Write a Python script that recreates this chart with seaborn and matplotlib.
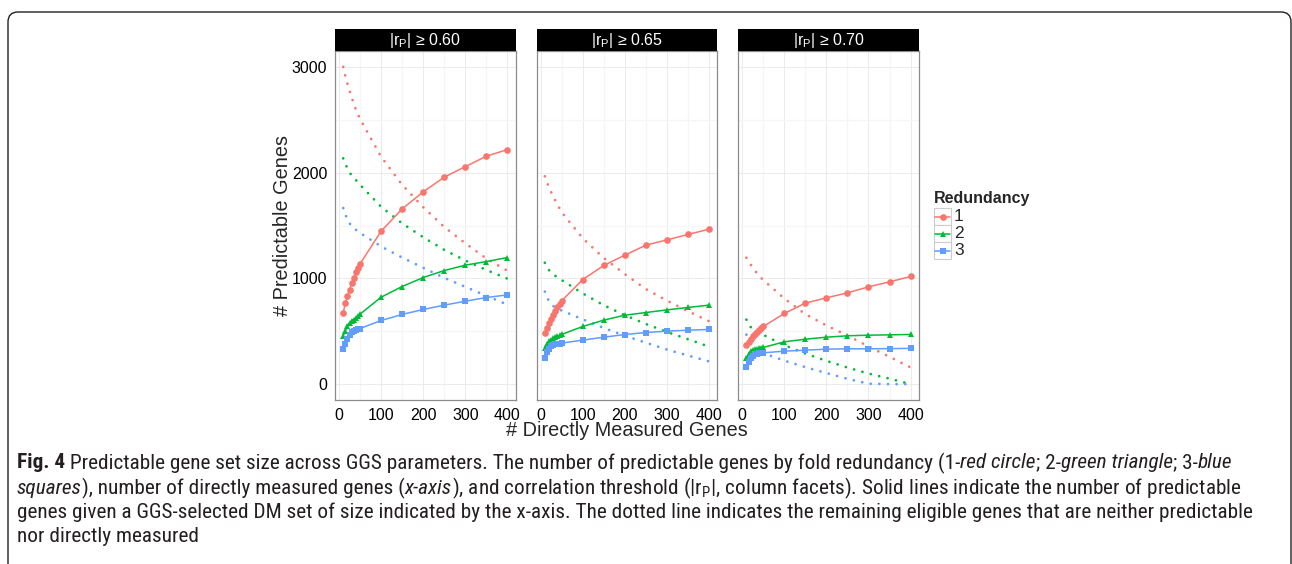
import numpy as np
import pandas as pd
import matplotlib
matplotlib.use("Agg")
import matplotlib.pyplot as plt
import matplotlib.patches as mpatches
from matplotlib.lines import Line2D
from matplotlib import font_manager
from matplotlib.transforms import IdentityTransform
import seaborn as sns

sns.set_style("white")
plt.rcParams["font.family"] = ["Liberation Sans", "DejaVu Sans"]
plt.rcParams["mathtext.fontset"] = "custom"
plt.rcParams["mathtext.rm"] = "Liberation Sans"

W, H = 1292, 564
COLORS = {1: "#F8766D", 2: "#00BA38", 3: "#619CFF"}
MARKERS = {1: "o", 2: "^", 3: "s"}

# ---- data ----
dm_genes = [10, 15, 20, 25, 30, 35, 40, 45, 50, 100, 150, 200, 250, 300, 350, 400]
thresholds = ["0.60", "0.65", "0.70"]
redundancy = [1, 2, 3]

# predictable genes (solid lines)
pred_060_r1 = [677, 763, 832, 892, 955, 1008, 1059, 1100, 1137, 1446, 1657, 1818, 1957, 2057, 2155, 2218]
pred_060_r2 = [457, 501, 551, 580, 599, 611, 627, 646, 662, 822, 923, 1008, 1074, 1125, 1159, 1197]
pred_060_r3 = [328, 381, 428, 460, 489, 501, 510, 520, 526, 602, 659, 706, 747, 784, 819, 844]
pred_065_r1 = [488, 535, 580, 618, 655, 690, 725, 756, 788, 989, 1122, 1219, 1314, 1364, 1415, 1465]
pred_065_r2 = [340, 384, 406, 422, 432, 441, 451, 460, 470, 545, 605, 652, 677, 702, 725, 747]
pred_065_r3 = [249, 302, 334, 356, 369, 378, 381, 384, 388, 416, 444, 469, 488, 501, 510, 517]
pred_070_r1 = [369, 400, 425, 451, 473, 494, 513, 529, 545, 668, 766, 816, 863, 920, 967, 1018]
pred_070_r2 = [243, 281, 312, 324, 331, 334, 337, 340, 347, 400, 425, 444, 457, 463, 466, 470]
pred_070_r3 = [164, 211, 243, 268, 281, 287, 290, 293, 296, 312, 321, 331, 334, 334, 336, 338]

# remaining eligible genes (dotted lines)
rem_060_r1 = [3000, 2915, 2840, 2776, 2712, 2652, 2595, 2550, 2508, 2150, 1885, 1673, 1486, 1332, 1188, 1072]
rem_060_r2 = [2135, 2085, 2040, 2003, 1973, 1950, 1930, 1910, 1885, 1677, 1520, 1389, 1270, 1169, 1080, 997]
rem_060_r3 = [1665, 1605, 1560, 1520, 1495, 1475, 1460, 1445, 1430, 1302, 1197, 1100, 1005, 920, 835, 752]
rem_065_r1 = [1965, 1910, 1860, 1815, 1775, 1735, 1700, 1662, 1625, 1380, 1192, 1041, 899, 790, 690, 595]
rem_065_r2 = [1148, 1110, 1078, 1058, 1040, 1024, 1010, 996, 984, 858, 746, 652, 569, 494, 425, 355]
rem_065_r3 = [875, 825, 784, 760, 738, 726, 716, 705, 696, 613, 531, 458, 392, 327, 271, 215]
rem_070_r1 = [1195, 1165, 1132, 1100, 1075, 1050, 1027, 1005, 984, 810, 661, 555, 460, 356, 258, 158]
rem_070_r2 = [610, 570, 540, 520, 505, 495, 485, 475, 466, 368, 289, 220, 157, 100, 52, 0]
rem_070_r3 = [468, 416, 384, 350, 330, 318, 309, 301, 294, 222, 161, 105, 50, 4, 0, 0]

pred = {"0.60": [pred_060_r1, pred_060_r2, pred_060_r3],
        "0.65": [pred_065_r1, pred_065_r2, pred_065_r3],
        "0.70": [pred_070_r1, pred_070_r2, pred_070_r3]}
rem = {"0.60": [rem_060_r1, rem_060_r2, rem_060_r3],
       "0.65": [rem_065_r1, rem_065_r2, rem_065_r3],
       "0.70": [rem_070_r1, rem_070_r2, rem_070_r3]}

rows = []
for thr in thresholds:
    for r, p, q in zip(redundancy, pred[thr], rem[thr]):
        for x, a, b in zip(dm_genes, p, q):
            rows.append((thr, r, x, "pred", a))
            rows.append((thr, r, x, "rem", b))
df = pd.DataFrame(rows, columns=["threshold", "redundancy", "dm", "kind", "genes"])


def box(x0, y0, x1, y1):
    return [x0 / W, 1 - y1 / H, (x1 - x0) / W, (y1 - y0) / H]


fig = plt.figure(figsize=(W / 100, H / 100), dpi=100)

PANEL_X = [(335, 515.6), (536.6, 717.2), (738.2, 918.8)]
for i, thr in enumerate(thresholds):
    x0, x1 = PANEL_X[i]
    ax = fig.add_axes(box(x0, 51, x1, 400))
    sub = df[df["threshold"] == thr]
    sns.lineplot(data=sub[sub["kind"] == "rem"], x="dm", y="genes", hue="redundancy",
                 palette=COLORS, lw=2.0, ls=(0, (0.01, 3.1)), dash_capstyle="round",
                 legend=False, ax=ax)
    sns.lineplot(data=sub[sub["kind"] == "pred"], x="dm", y="genes", hue="redundancy",
                 style="redundancy", markers=MARKERS, dashes=False, palette=COLORS,
                 lw=1.1, markersize=4.8, markeredgewidth=0, legend=False, ax=ax)
    ax.set_xlim(-9.5, 419.5)
    ax.set_ylim(-150, 3150)
    ax.set_xticks([0, 100, 200, 300, 400])
    ax.set_xticks([50, 150, 250, 350], minor=True)
    ax.set_yticks([0, 1000, 2000, 3000])
    ax.set_yticks([500, 1500, 2500], minor=True)
    ax.grid(which="major", color="#E8E8E8", lw=0.6)
    ax.grid(which="minor", color="#F6F6F6", lw=0.9)
    ax.set_axisbelow(True)
    ax.tick_params(which="minor", length=0)
    ax.tick_params(which="major", length=3.5, width=0.8, color="#333333",
                   labelsize=11.5, labelcolor="black", pad=2)
    if i > 0:
        ax.tick_params(axis="y", left=False, labelleft=False)
    ax.set_xlabel("")
    ax.set_ylabel("")
    for s in ax.spines.values():
        s.set_color("#8C8C8C")
        s.set_linewidth(0.9)

    sax = fig.add_axes(box(x0, 29, x1, 51))
    sax.set_facecolor("black")
    sax.set_xticks([])
    sax.set_yticks([])
    for s in sax.spines.values():
        s.set_visible(False)
    sax.text(0.5, 0.5, "|r$_\\mathregular{P}$| \u2265 " + thr, color="white",
             fontsize=11.5, ha="center", va="center", transform=sax.transAxes)

fig.text(283 / W, 1 - 225 / H, "# Predictable Genes", rotation=90,
         ha="center", va="center", fontsize=14.3)
fig.text(627 / W, 1 - 431 / H, "# Directly Measured Genes",
         ha="center", va="center", fontsize=14.3)

# legend
fig.text(934 / W, 1 - 198 / H, "Redundancy", fontweight="bold", fontsize=11.5,
         ha="left", va="center")
for k, r in enumerate(redundancy):
    y0 = 208 + 17 * k
    yc = 1 - (y0 + 8.5) / H
    fig.add_artist(mpatches.Rectangle((934 / W, 1 - (y0 + 17) / H), 17 / W, 17 / H,
                                      transform=fig.transFigure, fc="white",
                                      ec="#CCCCCC", lw=0.8))
    fig.add_artist(Line2D([935 / W, 950 / W], [yc, yc], transform=fig.transFigure,
                          color=COLORS[r], lw=1.1))
    fig.add_artist(Line2D([942.5 / W], [yc], transform=fig.transFigure, color=COLORS[r],
                          marker=MARKERS[r], markersize=4.8, markeredgewidth=0, lw=0))
    fig.text(954 / W, yc, str(r), fontsize=12.5, ha="left", va="center")

# frame around the figure
fig.add_artist(mpatches.FancyBboxPatch((8, -40), 1283, 592,
                                       boxstyle="round,pad=0,rounding_size=10",
                                       transform=IdentityTransform(), fc="none",
                                       ec="#231F20", lw=1.0))

# caption
names = {f.name for f in font_manager.fontManager.ttflist}
CAP_FONT = next((n for n in ["Roboto Condensed", "Liberation Sans Narrow"] if n in names),
                "DejaVu Sans")
caption = [
    [("Fig. 4", "b"),
     (" Predictable gene set size across GGS parameters. The number of predictable genes by fold redundancy (1-", "n"),
     ("red circle", "i"), ("; 2-", "n"), ("green triangle", "i"), ("; 3-", "n"), ("blue", "i")],
    [("squares", "i"), ("), number of directly measured genes (", "n"), ("x-axis", "i"),
     ("), and correlation threshold (|r$_\\mathregular{P}$|, column facets). Solid lines indicate the number of predictable", "n")],
    [("genes given a GGS-selected DM set of size indicated by the x-axis. The dotted line indicates the remaining eligible genes that are neither predictable", "n")],
    [("nor directly measured", "n")],
]
renderer = fig.canvas.get_renderer()


def style_kw(st, size):
    return dict(fontsize=size, family=[CAP_FONT, "DejaVu Sans"], stretch="condensed",
                fontweight="bold" if st == "b" else "normal",
                fontstyle="italic" if st == "i" else "normal", color="#231F20")


def seg_width(txt, st, size):
    t1 = fig.text(0, 0, "x" + txt + "x", **style_kw(st, size))
    t2 = fig.text(0, 0, "xx", **style_kw(st, size))
    w = t1.get_window_extent(renderer).width - t2.get_window_extent(renderer).width
    t1.remove()
    t2.remove()
    return w


base = 10
w1 = sum(seg_width(t, s, base) for t, s in caption[0])
cap_size = base * 1214 / w1
for line, yc in zip(caption, [463, 488, 512, 537]):
    x = 17
    for txt, st in line:
        fig.text(x / W, 1 - yc / H, txt, ha="left", va="center", **style_kw(st, cap_size))
        x += seg_width(txt, st, cap_size)

fig.savefig("out.png", dpi=100, facecolor="white")
